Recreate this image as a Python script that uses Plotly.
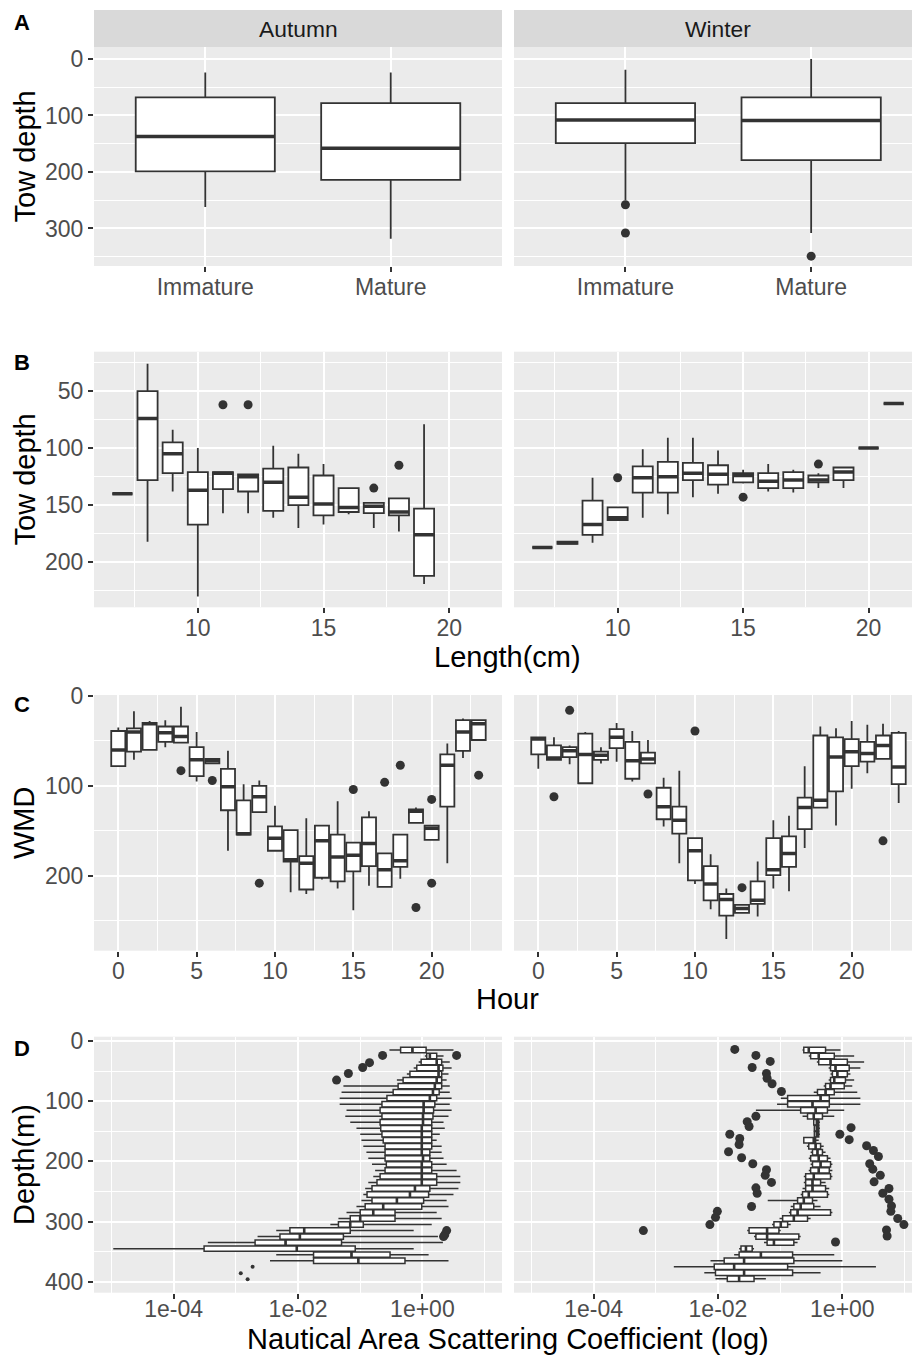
import numpy as np
import plotly.graph_objects as go

# ---------------- Panel A: tow depth by maturity stage ----------------
maturity = ["Immature", "Mature"]
a_aut_lo = [24, 24]
a_aut_q1 = [68, 78]
a_aut_med = [137, 158]
a_aut_q3 = [199, 214]
a_aut_hi = [262, 318]

a_win_lo = [19, 0]
a_win_q1 = [78, 68]
a_win_med = [108, 109]
a_win_q3 = [149, 179]
a_win_hi = [250, 308]
a_win_out_cat = ["Immature", "Immature", "Mature"]
a_win_out_val = [258, 308, 349]

# ---------------- Panel B: tow depth by length (cm) ----------------
b_aut_len = [7, 8, 9, 10, 11, 12, 13, 14, 15, 16, 17, 18, 19]
b_aut_lo = [140, 26, 84, 100, 121, 123, 98, 105, 114, 135, 148, 144, 79]
b_aut_q1 = [140, 50, 95, 121, 121, 123, 118, 117, 124, 135, 148, 144, 153]
b_aut_med = [140, 74, 105, 137, 122, 125, 130, 143, 149, 152, 151, 156, 176]
b_aut_q3 = [140, 128, 122, 167, 136, 138, 155, 150, 159, 156, 157, 159, 212]
b_aut_hi = [140, 182, 138, 230, 157, 157, 161, 170, 167, 158, 170, 173, 219]
b_aut_out_len = [11, 12, 17, 18]
b_aut_out_val = [62, 62, 135, 115]

b_win_len = [7, 8, 9, 10, 11, 12, 13, 14, 15, 16, 17, 18, 19, 20, 21]
b_win_lo = [187, 182, 126, 152, 101, 91, 91, 102, 119, 114, 119, 122, 117, 100, 61]
b_win_q1 = [187, 182, 146, 152, 116, 112, 113, 115, 122, 122, 121, 124, 117, 100, 61]
b_win_med = [187, 183, 167, 161, 126, 125, 122, 123, 124, 129, 128, 128, 121, 100, 61]
b_win_q3 = [187, 184, 176, 163, 139, 139, 128, 132, 130, 135, 135, 130, 128, 100, 61]
b_win_hi = [187, 184, 183, 163, 161, 158, 143, 140, 131, 138, 139, 135, 135, 100, 61]
b_win_out_len = [10, 15, 18]
b_win_out_val = [126, 143, 114]

# ---------------- Panel C: weighted mean depth by hour ----------------
hours = list(range(24))
c_aut_lo = [35, 17, 28, 27, 12, 40, 70, 61, 98, 94, 122, 149, 136, 144, 117, 163, 128, 175, 154, 124, 144, 53, 25, 26]
c_aut_q1 = [39, 36, 30, 34, 34, 57, 70, 81, 116, 100, 145, 149, 178, 144, 154, 163, 135, 175, 154, 126, 144, 65, 27, 27]
c_aut_med = [60, 40, 31, 41, 45, 71, 72, 101, 153, 112, 158, 182, 186, 161, 179, 177, 164, 193, 183, 128, 147, 77, 40, 31]
c_aut_q3 = [78, 62, 60, 51, 52, 89, 75, 127, 154, 129, 172, 184, 215, 202, 206, 195, 189, 212, 190, 141, 160, 123, 61, 49]
c_aut_hi = [79, 71, 60, 57, 52, 95, 75, 172, 154, 129, 172, 218, 220, 204, 214, 238, 211, 212, 203, 141, 160, 186, 69, 49]
c_aut_out_hour = [4, 6, 9, 15, 17, 18, 19, 20, 20, 23]
c_aut_out_val = [83, 94, 208, 104, 96, 77, 235, 115, 208, 88]

c_win_lo = [46, 46, 55, 40, 57, 30, 39, 49, 91, 83, 158, 176, 214, 232, 184, 138, 133, 78, 34, 36, 28, 32, 31, 39]
c_win_q1 = [46, 55, 57, 42, 62, 37, 51, 63, 102, 123, 158, 189, 220, 232, 206, 158, 156, 113, 44, 46, 48, 51, 44, 41]
c_win_med = [48, 69, 61, 65, 66, 46, 72, 70, 123, 138, 172, 209, 226, 236, 227, 193, 175, 124, 116, 68, 62, 64, 55, 79]
c_win_q3 = [65, 71, 68, 97, 71, 58, 92, 75, 137, 153, 205, 227, 244, 241, 231, 199, 190, 148, 124, 106, 78, 73, 70, 98]
c_win_hi = [81, 71, 76, 97, 75, 73, 95, 75, 145, 186, 209, 237, 270, 241, 245, 214, 217, 169, 124, 144, 103, 86, 70, 119]
c_win_out_hour = [1, 2, 7, 10, 13, 22]
c_win_out_val = [112, 16, 109, 39, 213, 161]

# ---------------- Panel D: NASC by depth layer (log10 NASC) ----------------
d_aut_depth = list(range(15, 366, 10))
d_aut_lo = [-0.53, 0.04, -0.06, -0.14, -0.25, -0.41, -1.27, -1.30, -1.33, -1.33, -1.22, -1.24,
            -1.16, -1.06, -1.00, -0.98, -0.95, -0.90, -0.87, -0.81, -0.76, -0.79, -0.87, -0.92,
            -0.95, -0.98, -1.06, -1.22, -1.35, -1.48, -2.35, -2.65, -3.45, -4.97, -2.35, -2.45]
d_aut_q1 = [-0.35, 0.07, -0.02, -0.09, -0.20, -0.31, -0.39, -0.47, -0.57, -0.65, -0.68, -0.65,
            -0.68, -0.67, -0.65, -0.63, -0.60, -0.60, -0.60, -0.58, -0.60, -0.68, -0.73, -0.81,
            -0.89, -0.81, -0.92, -1.00, -1.16, -1.35, -2.13, -2.29, -2.69, -3.51, -1.75, -1.75]
d_aut_med = [-0.16, 0.12, 0.23, 0.26, 0.26, 0.23, 0.20, 0.17, 0.12, 0.02, 0.02, 0.01,
             0.01, -0.01, -0.01, -0.01, -0.01, -0.01, 0.01, -0.01, -0.01, -0.01, -0.01, -0.12,
             -0.20, -0.41, -0.63, -0.79, -1.00, -1.16, -1.90, -1.97, -2.20, -2.02, -1.14, -1.03]
d_aut_q3 = [0.06, 0.23, 0.31, 0.33, 0.31, 0.31, 0.31, 0.27, 0.23, 0.20, 0.18, 0.17,
            0.15, 0.15, 0.15, 0.15, 0.15, 0.12, 0.12, 0.15, 0.15, 0.23, 0.23, 0.12,
            0.10, 0.02, -0.01, -0.44, -0.44, -0.95, -1.16, -1.27, -1.30, -1.08, -0.52, -0.28]
d_aut_hi = [0.50, 0.34, 0.44, 0.47, 0.42, 0.39, 0.44, 0.44, 0.47, 0.44, 0.47, 0.42,
            0.34, 0.36, 0.28, 0.23, 0.31, 0.31, 0.34, 0.39, 0.55, 0.61, 0.61, 0.58,
            0.50, 0.39, 0.42, 0.23, 0.31, 0.15, -0.14, 0.25, 0.33, -0.14, 0.10, 0.42]
d_aut_out_depth = [24, 24, 36, 44, 54, 65, 315, 322, 325]
d_aut_out_log = [0.55, -0.64, -0.85, -0.96, -1.19, -1.38, 0.39, 0.36, 0.34]
d_aut_single_depth = [375, 386, 396]
d_aut_single_log = [-2.73, -2.92, -2.81]

d_win_depth = list(range(15, 396, 10))
d_win_lo = [-0.64, -0.54, -0.41, -0.22, -0.19, -0.22, -0.30, -0.46, -0.99, -1.05, -1.39, -0.64,
            -0.47, -0.43, -0.43, -0.63, -0.57, -0.51, -0.54, -0.51, -0.54, -0.62, -0.62, -0.64,
            -0.67, -1.20, -0.83, -0.86, -1.01, -1.13, -1.53, -1.42, -1.26, -1.66, -1.74, -2.12,
            -2.71, -2.22, -2.04]
d_win_q1 = [-0.62, -0.51, -0.38, -0.19, -0.16, -0.19, -0.27, -0.40, -0.88, -0.88, -0.67, -0.56,
            -0.46, -0.45, -0.45, -0.62, -0.54, -0.48, -0.51, -0.48, -0.51, -0.59, -0.59, -0.59,
            -0.64, -0.72, -0.78, -0.83, -0.96, -1.10, -1.50, -1.39, -1.21, -1.63, -1.66, -1.90,
            -2.06, -2.04, -1.85]
d_win_med = [-0.54, -0.38, -0.19, -0.11, -0.08, -0.13, -0.19, -0.27, -0.35, -0.48, -0.43, -0.46,
             -0.41, -0.41, -0.41, -0.46, -0.43, -0.40, -0.38, -0.35, -0.38, -0.46, -0.48, -0.48,
             -0.54, -0.62, -0.67, -0.72, -0.78, -0.99, -1.21, -1.21, -1.10, -1.55, -1.31, -1.58,
             -1.74, -1.58, -1.66]
d_win_q3 = [-0.27, -0.13, 0.08, 0.11, 0.08, 0.05, 0.03, -0.13, -0.21, -0.21, -0.24, -0.32,
            -0.38, -0.38, -0.38, -0.43, -0.35, -0.32, -0.24, -0.19, -0.21, -0.19, -0.35, -0.27,
            -0.24, -0.48, -0.46, -0.19, -0.56, -0.88, -1.02, -0.70, -0.78, -1.45, -0.80, -0.78,
            -0.88, -0.80, -1.42]
d_win_hi = [-0.03, 0.19, 0.35, 0.29, 0.13, 0.19, 0.16, 0.24, 0.29, 0.29, 0.03, -0.13,
            -0.36, -0.36, -0.36, -0.38, -0.30, -0.27, -0.19, -0.16, -0.16, -0.16, -0.27, -0.21,
            -0.21, -0.40, -0.35, -0.16, -0.51, -0.83, -0.99, -0.67, -0.72, -1.42, -0.13, 0.00,
            0.54, -0.35, -1.23]
d_win_out_depth = [14, 24, 34, 44, 54, 62, 71, 84, 125, 134, 142, 155, 162, 172, 184, 194,
                   204, 214, 223, 235, 244, 253, 275, 283, 293, 305, 315, 334,
                   144, 155, 164, 174, 182, 192, 204, 213, 223, 234, 245, 253, 263, 274,
                   283, 295, 305, 314, 324]
d_win_out_log = [-1.73, -1.39, -1.16, -1.45, -1.22, -1.21, -1.13, -0.98, -1.39, -1.53, -1.50,
                 -1.81, -1.65, -1.66, -1.83, -1.62, -1.44, -1.22, -1.24, -1.14, -1.39, -1.37,
                 -1.46, -2.01, -2.04, -2.13, -3.20, -0.11,
                 0.14, -0.04, 0.11, 0.39, 0.50, 0.58, 0.44, 0.49, 0.61, 0.51, 0.75, 0.65, 0.75,
                 0.79, 0.78, 0.89, 0.99, 0.71, 0.72]

# ---------------- styling ----------------
INK = "#333333"
GRID = "white"
PANEL = "#EBEBEB"
STRIP = "#D9D9D9"
FONT = "Liberation Sans, Arial, sans-serif"
TICK_FONT = dict(family=FONT, size=23, color="#4D4D4D")
TITLE_SIZE = 29
W, H = 912, 1355


def px_x(p):
    return p / W


def px_y(p):
    return 1 - p / H


fig = go.Figure()


def add_boxes(pos, lo, q1, med, q3, hi, xa, ya, width, horizontal=False, lw=1.8, mlw=3.5):
    pos = list(pos)
    common = dict(q1=q1, median=med, q3=q3, lowerfence=lo, upperfence=hi, width=width,
                  whiskerwidth=0, fillcolor="white", line=dict(color=INK, width=lw),
                  boxpoints=False, hoverinfo="skip", showlegend=False, xaxis=xa, yaxis=ya)
    mx, my = [], []
    if horizontal:
        fig.add_trace(go.Box(y=pos, orientation="h", **common))
        for p, m in zip(pos, med):
            mx += [m, m, None]
            my += [p - width / 2, p + width / 2, None]
    else:
        fig.add_trace(go.Box(x=pos, orientation="v", **common))
        for p, m in zip(pos, med):
            mx += [p - width / 2, p + width / 2, None]
            my += [m, m, None]
    fig.add_trace(go.Scatter(x=mx, y=my, mode="lines", line=dict(color=INK, width=mlw),
                             hoverinfo="skip", showlegend=False, xaxis=xa, yaxis=ya))


def add_points(x, y, xa, ya, size=9):
    fig.add_trace(go.Scatter(x=x, y=y, mode="markers", marker=dict(color=INK, size=size),
                             hoverinfo="skip", showlegend=False, xaxis=xa, yaxis=ya))


# Panel A (categories placed at integer positions)
cat_pos = list(range(1, len(maturity) + 1))
add_boxes(cat_pos, a_aut_lo, a_aut_q1, a_aut_med, a_aut_q3, a_aut_hi, "x", "y", 0.75)
add_boxes(cat_pos, a_win_lo, a_win_q1, a_win_med, a_win_q3, a_win_hi, "x2", "y2", 0.75)
add_points([maturity.index(c) + 1 for c in a_win_out_cat], a_win_out_val, "x2", "y2")

# Panel B
add_boxes(b_aut_len, b_aut_lo, b_aut_q1, b_aut_med, b_aut_q3, b_aut_hi, "x3", "y3", 0.8)
add_points(b_aut_out_len, b_aut_out_val, "x3", "y3")
add_boxes(b_win_len, b_win_lo, b_win_q1, b_win_med, b_win_q3, b_win_hi, "x4", "y4", 0.8)
add_points(b_win_out_len, b_win_out_val, "x4", "y4")

# Panel C
add_boxes(hours, c_aut_lo, c_aut_q1, c_aut_med, c_aut_q3, c_aut_hi, "x5", "y5", 0.9)
add_points(c_aut_out_hour, c_aut_out_val, "x5", "y5")
add_boxes(hours, c_win_lo, c_win_q1, c_win_med, c_win_q3, c_win_hi, "x6", "y6", 0.9)
add_points(c_win_out_hour, c_win_out_val, "x6", "y6")


# Panel D (NASC values from log10 readings)
def nasc(v):
    return list(np.power(10.0, v))


add_boxes(d_aut_depth, nasc(d_aut_lo), nasc(d_aut_q1), nasc(d_aut_med), nasc(d_aut_q3),
          nasc(d_aut_hi), "x7", "y7", 9, horizontal=True, lw=1.5, mlw=2.6)
add_points(nasc(d_aut_out_log), d_aut_out_depth, "x7", "y7")
add_points(nasc(d_aut_single_log), d_aut_single_depth, "x7", "y7", size=4)
add_boxes(d_win_depth, nasc(d_win_lo), nasc(d_win_q1), nasc(d_win_med), nasc(d_win_q3),
          nasc(d_win_hi), "x8", "y8", 9, horizontal=True, lw=1.5, mlw=2.6)
add_points(nasc(d_win_out_log), d_win_out_depth, "x8", "y8")

# ---------------- axes ----------------
left_dom = [px_x(94), px_x(502)]
right_dom = [px_x(514), 1.0]
rows = {
    "A": [px_y(266), px_y(47)],
    "B": [px_y(607.3), px_y(351.7)],
    "C": [px_y(950.7), px_y(695)],
    "D": [px_y(1292.7), px_y(1036.7)],
}


def axis(domain, rng, tickvals, ticktext=None, minor_vals=None, anchor=None,
         labels=True, ticks=True, atype="linear", standoff=None):
    ax = dict(domain=domain, range=rng, type=atype, tickmode="array", tickvals=tickvals,
              showgrid=True, gridcolor=GRID, gridwidth=1.8, zeroline=False, showline=False,
              ticks="outside" if ticks else "", ticklen=5, tickwidth=1.5, tickcolor=INK,
              tickfont=TICK_FONT, showticklabels=labels, anchor=anchor, fixedrange=True,
              automargin=False)
    if standoff is not None:
        ax["ticklabelstandoff"] = standoff
    if ticktext is not None:
        ax["ticktext"] = ticktext
    if minor_vals:
        ax["minor"] = dict(tickmode="array", tickvals=minor_vals, showgrid=True,
                           gridcolor=GRID, gridwidth=0.9, ticks="")
    return ax


layout = {}
# Row A
a_major_y = [0, 100, 200, 300]
a_minor_y = [50, 150, 250, 350]
layout["xaxis"] = axis(left_dom, [0.4, 2.6], cat_pos, maturity, anchor="y", standoff=-5)
layout["yaxis"] = axis(rows["A"], [366.4, -21.2], a_major_y, minor_vals=a_minor_y, anchor="x")
layout["xaxis2"] = axis(right_dom, [0.4, 2.543], cat_pos, maturity, anchor="y2", standoff=-5)
layout["yaxis2"] = axis(rows["A"], [366.4, -21.2], a_major_y, minor_vals=a_minor_y,
                        anchor="x2", labels=False, ticks=False)
# Row B
b_minor_x = [7.5, 12.5, 17.5]
b_major_y = [50, 100, 150, 200]
b_minor_y = [25, 75, 125, 175, 225]
layout["xaxis3"] = axis(left_dom, [5.87, 22.1], [10, 15, 20], minor_vals=b_minor_x, anchor="y3", standoff=-5)
layout["yaxis3"] = axis(rows["B"], [239.5, 15.5], b_major_y, minor_vals=b_minor_y, anchor="x3")
layout["xaxis4"] = axis(right_dom, [5.87, 21.73], [10, 15, 20], minor_vals=b_minor_x, anchor="y4", standoff=-5)
layout["yaxis4"] = axis(rows["B"], [239.5, 15.5], b_major_y, minor_vals=b_minor_y,
                        anchor="x4", labels=False, ticks=False)
# Row C
c_major_x = [0, 5, 10, 15, 20]
c_minor_x = [2.5, 7.5, 12.5, 17.5, 22.5]
c_minor_y = [50, 150, 250]
layout["xaxis5"] = axis(left_dom, [-1.55, 24.49], c_major_x, minor_vals=c_minor_x, anchor="y5", standoff=-5)
layout["yaxis5"] = axis(rows["C"], [283, -1], [0, 100, 200], minor_vals=c_minor_y, anchor="x5")
layout["xaxis6"] = axis(right_dom, [-1.55, 23.85], c_major_x, minor_vals=c_minor_x, anchor="y6", standoff=-5)
layout["yaxis6"] = axis(rows["C"], [283, -1], [0, 100, 200], minor_vals=c_minor_y,
                        anchor="x6", labels=False, ticks=False)
# Row D
d_major = [1e-4, 1e-2, 1e0]
d_major_text = ["1e-04", "1e-02", "1e+00"]
d_minor = [1e-5, 1e-3, 1e-1, 1e1]
d_major_y = [0, 100, 200, 300, 400]
d_minor_y = [50, 150, 250, 350]
layout["xaxis7"] = axis(left_dom, [-5.28, 1.28], d_major, d_major_text, minor_vals=d_minor,
                        anchor="y7", atype="log", standoff=-9)
layout["yaxis7"] = axis(rows["D"], [418.2, -7.1], d_major_y, minor_vals=d_minor_y, anchor="x7")
layout["xaxis8"] = axis(right_dom, [-5.28, 1.12], d_major, d_major_text, minor_vals=d_minor,
                        anchor="y8", atype="log", standoff=-9)
layout["yaxis8"] = axis(rows["D"], [418.2, -7.1], d_major_y, minor_vals=d_minor_y,
                        anchor="x8", labels=False, ticks=False)

fig.update_layout(**layout)

# ---------------- strips, titles, panel letters ----------------
shapes = [
    dict(type="rect", xref="paper", yref="paper", x0=px_x(94), x1=px_x(502),
         y0=px_y(47), y1=px_y(10), fillcolor=STRIP, line=dict(width=0), layer="below"),
    dict(type="rect", xref="paper", yref="paper", x0=px_x(514), x1=1.0,
         y0=px_y(47), y1=px_y(10), fillcolor=STRIP, line=dict(width=0), layer="below"),
]


def note(text, x, y, size, color="black", angle=0, bold=False):
    return dict(text=f"<b>{text}</b>" if bold else text, x=px_x(x), y=px_y(y),
                xref="paper", yref="paper", showarrow=False, xanchor="center",
                yanchor="middle", textangle=angle,
                font=dict(family=FONT, size=size, color=color))


annotations = [
    note("Autumn", 298, 28.5, 22.8, "#1A1A1A"),
    note("Winter", 718, 28.5, 22.8, "#1A1A1A"),
    note("Tow depth", 24, 156.5, TITLE_SIZE, angle=-90),
    note("Tow depth", 24, 479.5, TITLE_SIZE, angle=-90),
    note("WMD", 24, 823, TITLE_SIZE, angle=-90),
    note("Depth(m)", 24, 1165, TITLE_SIZE, angle=-90),
    note("Length(cm)", 508, 657, TITLE_SIZE),
    note("Hour", 508, 999, TITLE_SIZE),
    note("Nautical Area Scattering Coefficient (log)", 508, 1338.5, TITLE_SIZE),
    note("A", 22, 22, 22, bold=True),
    note("B", 21.5, 362.5, 22, bold=True),
    note("C", 21.5, 705, 22, bold=True),
    note("D", 21.5, 1048.5, 22, bold=True),
]

fig.update_layout(
    width=W, height=H, margin=dict(l=0, r=0, t=0, b=0, autoexpand=False),
    paper_bgcolor="white", plot_bgcolor=PANEL, showlegend=False, boxmode="overlay",
    font=dict(family=FONT), shapes=shapes, annotations=annotations,
)

fig.write_html("out.html")
